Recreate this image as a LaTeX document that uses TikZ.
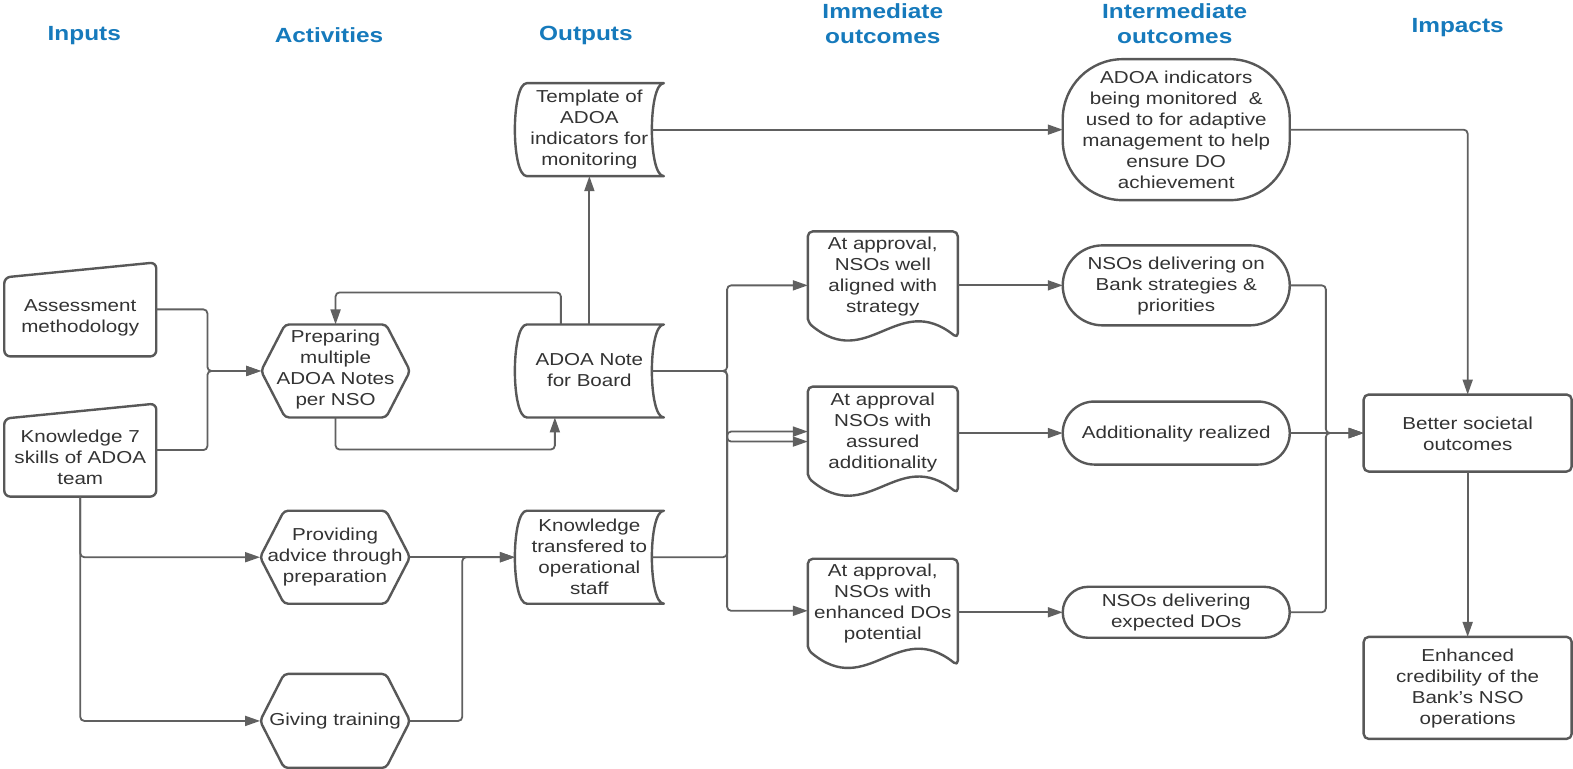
\documentclass[tikz,border=0pt]{standalone}
\usepackage{fontspec}
\setmainfont{Liberation Sans}[FakeStretch=1.19]
\usetikzlibrary{arrows.meta}
\definecolor{hdr}{RGB}{22,122,188}
\definecolor{ln}{RGB}{88,88,88}
\definecolor{cn}{RGB}{96,96,96}
\definecolor{tx}{RGB}{51,51,51}
\tikzset{
  area/.style={inner sep=0pt, outer sep=0pt},
  shp/.style={draw=ln, line width=2.4pt, line join=round},
  conn/.style={draw=cn, line width=1.8pt, rounded corners=4pt, -{Triangle[length=15pt,width=10pt]}},
  txt/.style={text=tx, align=center, inner sep=0pt, yshift=-3pt, font=\fontsize{17.3}{21}\selectfont},
  hd/.style={text=hdr, align=center, inner sep=0pt, font=\bfseries\fontsize{20.5}{25}\selectfont},
}
\newcommand\mkhex[1]{\draw[shp, rounded corners=4pt] (#1.west) -- ([xshift=24pt]#1.north west) -- ([xshift=-24pt]#1.north east) -- (#1.east) -- ([xshift=-24pt]#1.south east) -- ([xshift=24pt]#1.south west) -- cycle;}
\newcommand\mkstore[1]{\draw[shp] ([xshift=12pt]#1.north west) -- (#1.north east) .. controls ([xshift=-16pt]#1.north east) and ([xshift=-16pt]#1.south east) .. (#1.south east) -- ([xshift=12pt]#1.south west) .. controls ([xshift=-4pt]#1.south west) and ([xshift=-4pt]#1.north west) .. ([xshift=12pt]#1.north west) -- cycle;}
\newcommand\mkdoc[1]{\draw[shp, rounded corners=5pt] ([yshift=17pt]#1.south west) -- (#1.north west) -- (#1.north east) -- ([yshift=1pt]#1.south east) .. controls ([xshift=90pt,yshift=49pt]#1.south west) and ([xshift=60pt,yshift=-33pt]#1.south west) .. ([yshift=17pt]#1.south west) -- cycle;}
\newcommand\mkmanual[1]{\draw[shp, rounded corners=6pt] ([yshift=-15pt]#1.north west) -- (#1.north east) -- (#1.south east) -- (#1.south west) -- cycle;}
\begin{document}
\begin{tikzpicture}[x=1.0032pt,y=-1.0013pt]
\fill[white] (0,0) rectangle (1568,768);
\useasboundingbox (0,0) rectangle (1568,768);

% headers
\node[hd] (h1) at (84,36) {Inputs};
\node[hd] (h2) at (328,35.5) {Activities};
\node[hd] (h3) at (584,35.5) {Outputs};
\node[hd] (h4) at (880,23.5) {Immediate\\outcomes};
\node[hd] (h5) at (1171,23.5) {Intermediate\\outcomes};
\node[hd] (h6) at (1453,28) {Impacts};

% shape nodes
\node[area, minimum width=152pt, minimum height=94pt] (in1) at (80,309) {};
\node[area, minimum width=152pt, minimum height=93pt] (in2) at (80,449.5) {};
\node[area, minimum width=149pt, minimum height=93pt] (hex1) at (334.5,370.5) {};
\node[area, minimum width=150pt, minimum height=93pt] (hex2) at (334,556.5) {};
\node[area, minimum width=150pt, minimum height=94pt] (hex3) at (334,720) {};
\node[area, minimum width=149pt, minimum height=93pt] (out1) at (587.5,129.5) {};
\node[area, minimum width=149pt, minimum height=93pt] (out2) at (587.5,370.5) {};
\node[area, minimum width=149pt, minimum height=93pt] (out3) at (587.5,556.5) {};
\node[area, minimum width=150pt, minimum height=108pt] (doc1) at (880,285) {};
\node[area, minimum width=150pt, minimum height=108pt] (doc2) at (880,440) {};
\node[area, minimum width=150pt, minimum height=108pt] (doc3) at (880,612) {};
\node[area, shp, minimum width=227pt, minimum height=141pt, rounded corners=60pt] (int1) at (1172.5,129.5) {};
\node[area, shp, minimum width=227pt, minimum height=80pt, rounded corners=40pt] (int2) at (1172.5,285) {};
\node[area, shp, minimum width=227pt, minimum height=63pt, rounded corners=31.5pt] (int3) at (1172.5,432.5) {};
\node[area, shp, minimum width=227pt, minimum height=51pt, rounded corners=25.5pt] (int4) at (1172.5,611.5) {};
\node[area, shp, minimum width=208pt, minimum height=77pt, rounded corners=5pt] (imp1) at (1463,432.5) {};
\node[area, shp, minimum width=208pt, minimum height=102pt, rounded corners=5pt] (imp2) at (1463,687) {};

\mkmanual{in1}
\mkmanual{in2}
\mkhex{hex1}
\mkhex{hex2}
\mkhex{hex3}
\mkstore{out1}
\mkstore{out2}
\mkstore{out3}
\mkdoc{doc1}
\mkdoc{doc2}
\mkdoc{doc3}

% texts
\node[txt] (t-in1) at (80,314.5) {Assessment\\methodology};
\node[txt] (t-in2) at (80,453.5) {Knowledge 7\\skills of ADOA\\team};
\node[txt] (t-hex1) at (334.5,366.5) {Preparing\\multiple\\ADOA Notes\\per NSO};
\node[txt] (t-hex2) at (334,553) {Providing\\advice through\\preparation};
\node[txt] (t-hex3) at (334,717) {Giving training};
\node[txt] (t-out1) at (587.5,126) {Template of\\ADOA\\indicators for\\monitoring};
\node[txt] (t-out2) at (587.5,366.5) {ADOA Note\\for Board};
\node[txt] (t-out3) at (587.5,553) {Knowledge\\transfered to\\operational\\staff};
\node[txt] (t-doc1) at (880,273.5) {At approval,\\NSOs well\\aligned with\\strategy};
\node[txt] (t-doc2) at (880,429) {At approval\\NSOs with\\assured\\additionality};
\node[txt] (t-doc3) at (880,600) {At approval,\\NSOs with\\enhanced DOs\\potential};
\node[txt] (t-int1) at (1172.5,127) {ADOA indicators\\being monitored~~\&\\used to for adaptive\\management to help\\ensure DO\\achievement};
\node[txt] (t-int2) at (1172.5,283) {NSOs delivering on\\Bank strategies \&\\priorities};
\node[txt] (t-int3) at (1172.5,430) {Additionality realized};
\node[txt] (t-int4) at (1172.5,608.5) {NSOs delivering\\expected DOs};
\node[txt] (t-imp1) at (1463,430.5) {Better societal\\outcomes};
\node[txt] (t-imp2) at (1463,685) {Enhanced\\credibility of the\\Bank's NSO\\operations};

% connectors
\draw[conn] (in1.east) -- ++(51,0) |- (hex1.west);
\draw[conn] (in2.east) -- ++(51,0) |- (hex1.west);
\draw[conn] (in2.south) |- (hex2.west);
\draw[conn] (in2.south) |- (hex3.west);
\draw[conn] (hex1.south) -- ++(0,32) -| ([xshift=-34.5pt]out2.south);
\draw[conn] ([xshift=-28.5pt]out2.north) -- ++(0,-32) -| (hex1.north);
\draw[conn] (out2.north) -- (out1.south);
\draw[conn] ([xshift=-12pt]out1.east) -- (int1.west);
\draw[conn] ([xshift=-12pt]out2.east) -- ++(75,0) |- (doc1.west);
\draw[conn] ([xshift=-12pt]out2.east) -- ++(75,0) |- ([yshift=-1pt]doc2.west);
\draw[conn] ([xshift=-12pt]out2.east) -- ++(75,0) |- ([yshift=2pt]doc3.west);
\draw[conn] ([xshift=-12pt]out3.east) -- ++(75,0) |- ([yshift=9pt]doc2.west);
\draw[conn] (hex2.east) -- (out3.west);
\draw[conn] (hex3.east) -- ++(52,0) |- (out3.west);
\draw[conn] (doc1.east) -- (int2.west);
\draw[conn] (doc2.east |- int3.west) -- (int3.west);
\draw[conn] (doc3.east |- int4.west) -- (int4.west);
\draw[conn] (int1.east) -| (imp1.north);
\draw[conn] (int2.east) -- ++(36,0) |- (imp1.west);
\draw[conn] (int3.east) -- (imp1.west);
\draw[conn] (int4.east) -- ++(36,0) |- (imp1.west);
\draw[conn] (imp1.south) -- (imp2.north);
\end{tikzpicture}
\end{document}
